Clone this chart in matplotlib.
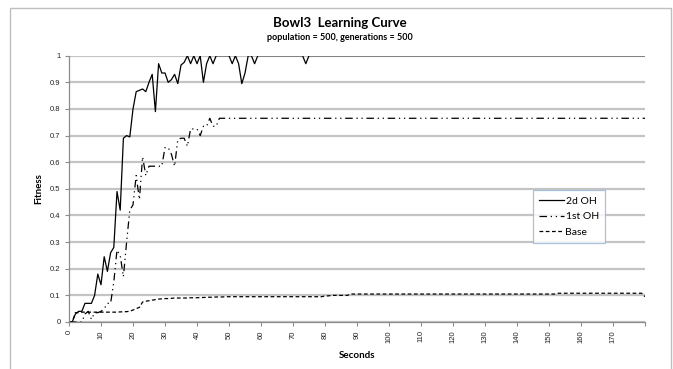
import numpy as np
import matplotlib
matplotlib.use("Agg")
import matplotlib.pyplot as plt
from matplotlib.patches import Rectangle

# seconds 0..180, one point per second
secs = np.arange(0, 181)

oh2_start = [0, 0, 0.03, 0.04, 0.04, 0.07, 0.07, 0.07, 0.10, 0.18,
             0.14, 0.245, 0.19, 0.26, 0.28, 0.49, 0.42, 0.69, 0.70, 0.695,
             0.80, 0.865, 0.87, 0.875, 0.865, 0.90, 0.93, 0.79, 0.97, 0.935,
             0.935, 0.90, 0.91, 0.93, 0.895, 0.965, 0.975, 1.0, 0.97, 1.0,
             0.97, 1.0, 0.90, 0.97, 1.0, 0.97, 1.0, 1.0, 1.0, 1.0,
             1.0, 0.97, 1.0, 0.97, 0.895, 0.935, 1.0, 1.0, 0.97, 1.0,
             1.0, 1.0, 1.0, 1.0, 1.0, 1.0, 1.0, 1.0, 1.0, 1.0,
             1.0, 1.0, 1.0, 1.0, 0.97]
oh2_rest = 1.0

oh1_start = [0, 0, 0, 0, 0, 0.03, 0.04, 0.01, 0.035, 0.035,
             0.04, 0.05, 0.07, 0.07, 0.15, 0.27, 0.25, 0.17, 0.30, 0.42,
             0.44, 0.55, 0.46, 0.62, 0.55, 0.585, 0.585, 0.585, 0.585, 0.585,
             0.655, 0.655, 0.63, 0.585, 0.685, 0.69, 0.69, 0.66, 0.725, 0.725,
             0.725, 0.70, 0.735, 0.735, 0.765, 0.735, 0.735]
oh1_rest = 0.765

base_start = [0, 0, 0.035, 0.035, 0.037, 0.037, 0.037, 0.037, 0.037, 0.037,
              0.037, 0.037, 0.037, 0.037, 0.037, 0.037, 0.038, 0.038, 0.039, 0.04,
              0.045, 0.05, 0.055, 0.075, 0.078, 0.08, 0.082, 0.084, 0.086, 0.087,
              0.088, 0.088, 0.089, 0.09, 0.09, 0.09, 0.09, 0.09, 0.091, 0.091,
              0.091, 0.092, 0.092, 0.093, 0.093, 0.093, 0.094, 0.094, 0.094, 0.095]
base_mid = [(50, 0.095), (80, 0.098), (82, 0.1), (88, 0.105), (153, 0.108)]
base_end = 0.095


def fill(start, rest):
    out = list(start) + [rest] * (len(secs) - len(start))
    return np.array(out)


oh2 = fill(oh2_start, oh2_rest)
oh1 = fill(oh1_start, oh1_rest)
base = fill(base_start, base_start[-1])
for s0, v in base_mid:
    base[s0:] = v
base[-1] = base_end

W, H = 673, 369
fig = plt.figure(figsize=(W / 100, H / 100), dpi=100)
fig.patch.set_facecolor("white")
fig.patches.append(Rectangle((10 / W, -0.05), 661 / W, 1.05 - 8 / H,
                             transform=fig.transFigure, fill=False,
                             edgecolor="#BFBFBF", lw=1.0))

ax = fig.add_axes([69 / W, 1 - 322 / H, 576 / W, 266.3 / H])
ax.set_xlim(0, 180)
ax.set_ylim(0, 1)

ax.set_yticks(np.arange(0, 1.01, 0.1))
ax.set_yticklabels(["0", "0.1", "0.2", "0.3", "0.4", "0.5", "0.6", "0.7", "0.8", "0.9", "1"],
                   fontsize=5.5, family="Liberation Sans")
ax.set_xticks(np.arange(0, 181, 10))
ax.set_xticklabels([str(t) for t in range(0, 171, 10)] + [""], rotation=90,
                   fontsize=5.5, family="Liberation Sans")
ax.grid(axis="y", color="#C4C4C4", lw=1.6)
ax.set_axisbelow(True)
for side in ["top", "right"]:
    ax.spines[side].set_visible(False)
for side in ["left", "bottom"]:
    ax.spines[side].set_color("#8C8C8C")
    ax.spines[side].set_linewidth(0.9)
ax.tick_params(colors="#8C8C8C", length=3, width=0.8, labelcolor="#222222", pad=3)

ax.plot(secs, oh2, color="black", lw=0.9, label="2d OH")
ax.plot(secs, oh1, color="black", lw=0.9, dashes=[6, 3, 1, 3, 1, 3], label="1st OH")
ax.plot(secs, base, color="black", lw=0.9, dashes=[3, 2], label="Base")

leg = ax.legend(loc="upper left", bbox_to_anchor=(528 / W, 1 - 185 / H),
                bbox_transform=fig.transFigure, frameon=True,
                fancybox=False, handlelength=2.4, handletextpad=0.1,
                borderpad=0.6, labelspacing=0.6, prop={"family": "Lato", "size": 7.5})
leg.get_frame().set_edgecolor("#95B3D7")
leg.get_frame().set_linewidth(0.9)

fig.text(340 / W, 1 - 23 / H, "Bowl3  Learning Curve", ha="center", va="center",
         fontsize=9.5, fontweight="bold", family="Lato")
fig.text(340 / W, 1 - 38 / H, "population = 500, generations = 500", ha="center",
         va="center", fontsize=6.5, fontweight="bold", family="Lato")
fig.text(39 / W, 1 - 189 / H, "Fitness", ha="center", va="center", rotation=90,
         fontsize=7, fontweight="bold", family="Lato")
fig.text(357 / W, 1 - 355 / H, "Seconds", ha="center", va="center",
         fontsize=7, fontweight="bold", family="Lato")

plt.savefig("out.png", dpi=100)
